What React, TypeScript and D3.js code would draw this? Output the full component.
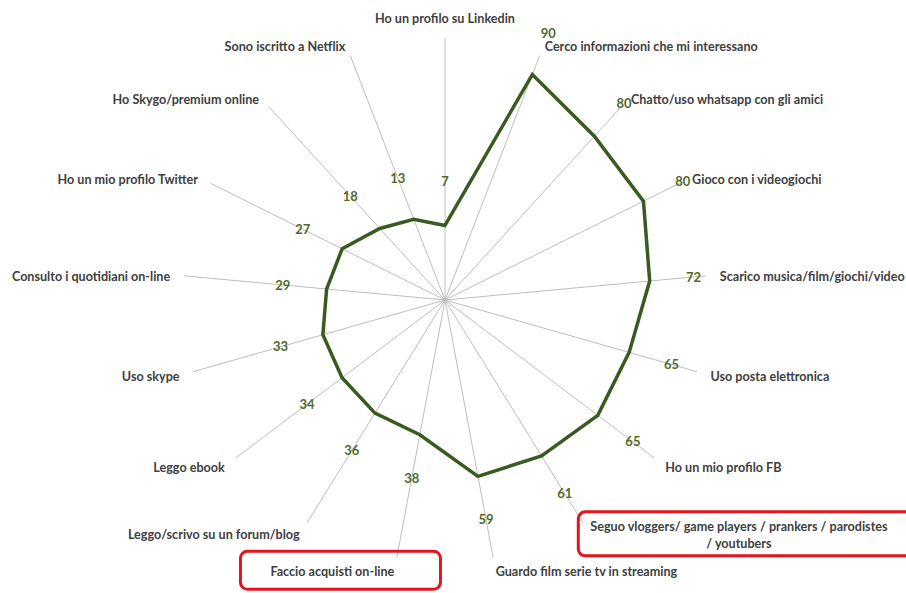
import { useEffect, useRef } from 'react';
import * as d3 from 'd3';

// categories, clockwise from the top spoke
const categories = [
  'Ho un profilo su Linkedin',
  'Cerco informazioni che mi interessano',
  'Chatto/uso whatsapp con gli amici',
  'Gioco con i videogiochi',
  'Scarico musica/film/giochi/video',
  'Uso posta elettronica',
  'Ho un mio profilo FB',
  'Seguo vloggers/ game players / prankers / parodistes\n/ youtubers',
  'Guardo film serie tv in streaming',
  'Faccio acquisti on-line',
  'Leggo/scrivo su un forum/blog',
  'Leggo ebook',
  'Uso skype',
  'Consulto i quotidiani on-line',
  'Ho un mio profilo Twitter',
  'Ho Skygo/premium online',
  'Sono iscritto a Netflix',
];

const values = [7, 90, 80, 80, 72, 65, 65, 61, 59, 38, 36, 34, 33, 29, 27, 18, 13];

// labels circled in red in the original
const highlighted = [
  'Seguo vloggers/ game players / prankers / parodistes\n/ youtubers',
  'Faccio acquisti on-line',
];

const radialDomain = [-30, 100];

const W = 906;
const H = 593;
const CX = 445;
const CY = 300;
const R = 262;

export default function App() {
  const svgRef = useRef<SVGSVGElement>(null);

  useEffect(() => {
    if (!svgRef.current) return;
    const svg = d3.select(svgRef.current);
    svg.selectAll('*').remove();

    const n = categories.length;
    const angle = (i: number) => (i * 2 * Math.PI) / n;
    const r = d3.scaleLinear().domain(radialDomain).range([0, R]);

    const g = svg.append('g').attr('transform', `translate(${CX},${CY})`);

    // spokes
    g.selectAll('line.spoke')
      .data(categories)
      .join('line')
      .attr('class', 'spoke')
      .attr('x1', 0)
      .attr('y1', 0)
      .attr('x2', (d, i) => R * Math.sin(angle(i)))
      .attr('y2', (d, i) => -R * Math.cos(angle(i)))
      .attr('stroke', '#bdbdbd')
      .attr('stroke-width', 1);

    // the series
    const line = d3.lineRadial<number>()
      .angle((d, i) => angle(i))
      .radius(d => r(d))
      .curve(d3.curveLinearClosed);

    g.append('path')
      .attr('d', line(values) || '')
      .attr('fill', 'none')
      .attr('stroke', '#395a20')
      .attr('stroke-width', 3.5)
      .attr('stroke-linejoin', 'miter');

    // value labels, a little way out along each spoke
    const off = 44;
    g.selectAll('text.val')
      .data(values)
      .join('text')
      .attr('class', 'val')
      .attr('x', (d, i) => (r(d) + off) * Math.sin(angle(i)))
      .attr('y', (d, i) => -(r(d) + off) * Math.cos(angle(i)))
      .attr('dy', '0.35em')
      .attr('text-anchor', 'middle')
      .style('font-family', 'Lato, sans-serif')
      .style('font-weight', '700')
      .style('font-size', '13px')
      .attr('fill', '#4f6a2a')
      .text(d => d);

    // category labels
    const lineH = 17;
    categories.forEach((cat, i) => {
      const a = angle(i);
      const s = Math.sin(a);
      const c = Math.cos(a);
      const ex = R * s;
      const ey = -R * c;
      const centered = Math.abs(s) < 0.05;
      const x = ex + s * 14;
      const y = ey - c * 12 + 2 - (centered ? 9 : 0);
      const anchor = centered ? 'middle' : s > 0 ? 'start' : 'end';
      const lines = cat.split('\n');

      const t = g.append('text')
        .attr('text-anchor', anchor)
        .style('font-family', 'Lato, sans-serif')
        .style('font-weight', '700')
        .style('font-size', '12.6px')
        .attr('fill', '#404040');

      lines.forEach((ln, k) => {
        t.append('tspan')
          .attr('x', x)
          .attr('y', y + (k - (lines.length - 1) / 2) * lineH)
          .attr('dy', '0.35em')
          .text(ln);
      });

      // multi-line labels are centred on their widest line
      if (lines.length > 1) {
        let maxW = 0;
        t.selectAll<SVGTSpanElement, unknown>('tspan').each(function () {
          maxW = Math.max(maxW, this.getComputedTextLength());
        });
        const mx = anchor === 'start' ? x + maxW / 2 : anchor === 'end' ? x - maxW / 2 : x;
        t.attr('text-anchor', 'middle');
        t.selectAll('tspan').attr('x', mx);
      }

      if (highlighted.includes(cat)) {
        const bb = (t.node() as SVGTextElement).getBBox();
        const bw = Math.max(bb.width + 40, 200);
        const bh = Math.max(bb.height + 12, 38);
        const bcx = bb.x + bb.width / 2 + 8;
        const bcy = bb.y + bb.height / 2 - 1;
        g.append('rect')
          .attr('x', bcx - bw / 2)
          .attr('y', bcy - bh / 2)
          .attr('width', bw)
          .attr('height', bh)
          .attr('rx', 7)
          .attr('fill', 'none')
          .attr('stroke', '#e3141b')
          .attr('stroke-width', 3);
      }
    });
  }, []);

  return (
    <svg
      ref={svgRef}
      width={W}
      height={H}
      style={{ position: 'absolute', left: 0, top: 0, background: '#fff' }}
    />
  );
}
